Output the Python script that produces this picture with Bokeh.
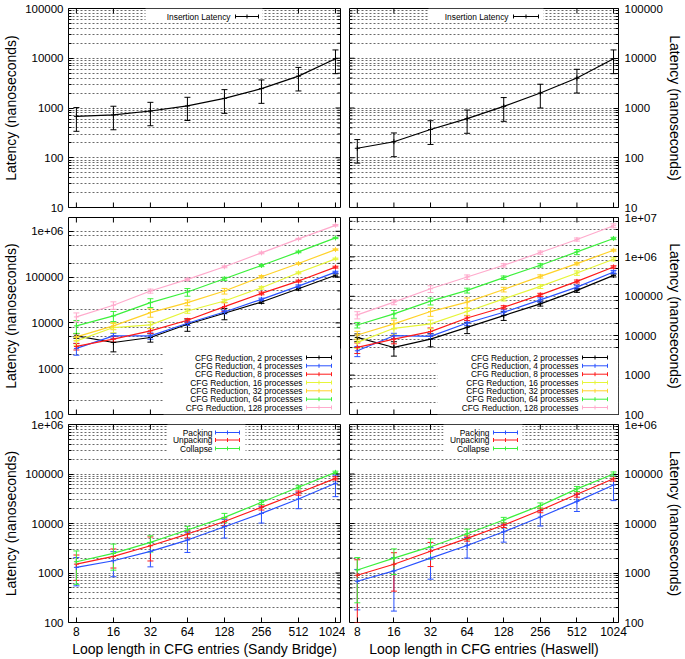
from bokeh.plotting import figure
from bokeh.models import (Range1d, FixedTicker, LinearScale, ColumnDataSource, Whisker,
                          TeeHead, Label, BoxAnnotation, Arrow)
from bokeh.layouts import column, row
from bokeh.embed import file_html
from bokeh.resources import INLINE

# ---------------- data ----------------
LOOP_LEN = [8, 16, 32, 64, 128, 256, 512, 1024]
X_TICK_LABELS = ["8", "16", "32", "64", "128", "256", "512", "1024"]

# Insertion latency (ns)
INS_SB = [680, 725, 870, 1100, 1560, 2450, 4370, 9800]
INS_SB_ERR = [340, 360, 430, 540, 780, 1210, 2170, 4900]
INS_HW = [155, 210, 370, 610, 1080, 2000, 4000, 9800]
INS_HW_ERR = [77, 105, 185, 300, 540, 1000, 2000, 4900]

# CFG reduction, Sandy Bridge
CFG_PROCS = ["2", "4", "8", "16", "32", "64", "128"]
CFG_SB_2 = [5210, 3730, 4800, 9350, 16200, 28600, 55700, 110000]
CFG_SB_2_ERR = [600, 1400, 1000, 2800, 4500, 2000, 4000, 8000]
CFG_SB_4 = [2770, 5210, 5200, 9800, 17300, 32700, 63500, 128000]
CFG_SB_4_ERR = [800, 700, 800, 1000, 1500, 2000, 4000, 6000]
CFG_SB_8 = [3060, 4420, 6700, 11400, 22700, 44100, 81900, 165000]
CFG_SB_8_ERR = [500, 600, 800, 1000, 5000, 3000, 4000, 8000]
CFG_SB_16 = [4060, 7910, 9040, 18200, 30100, 58600, 124000, 250000]
CFG_SB_16_ERR = [800, 1800, 1500, 2000, 2500, 4000, 6000, 10000]
CFG_SB_32 = [4960, 8600, 16800, 27700, 49600, 102000, 198000, 399000]
CFG_SB_32_ERR = [900, 1500, 3500, 4000, 7000, 6000, 8000, 15000]
CFG_SB_64 = [8600, 14200, 27700, 47200, 92000, 179000, 355000, 716000]
CFG_SB_64_ERR = [2700, 3500, 6000, 9000, 7000, 10000, 15000, 25000]
CFG_SB_128 = [13500, 24300, 49600, 89000, 168000, 338000, 681000, 1350000]
CFG_SB_128_ERR = [3000, 4500, 5000, 5000, 8000, 15000, 20000, 50000]

# CFG reduction, Haswell
CFG_HW_2 = [9060, 5030, 8220, 16300, 32400, 64400, 141000, 340000]
CFG_HW_2_ERR = [2000, 2000, 3000, 5000, 8000, 8000, 15000, 30000]
CFG_HW_4 = [4140, 10000, 9620, 21000, 39400, 81400, 171000, 414000]
CFG_HW_4_ERR = [1200, 1500, 1500, 3000, 6000, 10000, 20000, 40000]
CFG_HW_8 = [5030, 8220, 12700, 28200, 52800, 109000, 239000, 556000]
CFG_HW_8_ERR = [1500, 2000, 3000, 4000, 5000, 10000, 20000, 40000]
CFG_HW_16 = [6760, 15400, 19900, 41000, 86300, 178000, 390000, 871000]
CFG_HW_16_ERR = [2000, 5000, 5000, 8000, 10000, 20000, 50000, 80000]
CFG_HW_32 = [10400, 19900, 41000, 71000, 149000, 321000, 676000, 1480000]
CFG_HW_32_ERR = [2500, 5000, 10000, 20000, 20000, 30000, 50000, 80000]
CFG_HW_64 = [18700, 35700, 75300, 141000, 297000, 613000, 1340000, 2940000]
CFG_HW_64_ERR = [3000, 8000, 15000, 20000, 30000, 60000, 200000, 200000]
CFG_HW_128 = [33700, 71000, 155000, 308000, 613000, 1290000, 2770000, 6180000]
CFG_HW_128_ERR = [7000, 10000, 30000, 40000, 60000, 120000, 250000, 700000]

# Packing / Unpacking / Collapse
PACK_SB = [1300, 1770, 2730, 4630, 8610, 16000, 31300, 64900]
PACK_SB_ERR = [750, 930, 1400, 2030, 3530, 5800, 11400, 30000]
UNPACK_SB = [1510, 2160, 3550, 6120, 11000, 21200, 41300, 81800]
UNPACK_SB_ERR = [800, 900, 1800, 1000, 2000, 2500, 4000, 6000]
COLLAPSE_SB = [1690, 2490, 4150, 7380, 13300, 26800, 53900, 108000]
COLLAPSE_SB_ERR = [1100, 1350, 1500, 1400, 2700, 2500, 4000, 6000]

PACK_HW = [680, 1100, 2000, 3600, 6800, 13500, 28000, 60000]
PACK_HW_ERR = [500, 930, 1250, 1600, 2600, 4600, 10500, 31000]
UNPACK_HW = [900, 1500, 2750, 5000, 9300, 18500, 39000, 80000]
UNPACK_HW_ERR = [950, 1070, 1400, 600, 1000, 2000, 5000, 8000]
COLLAPSE_HW = [1150, 2000, 3400, 6200, 11800, 23000, 50000, 100000]
COLLAPSE_HW_ERR = [900, 1070, 1500, 1500, 1500, 3000, 6000, 10000]

# axis ticks
TOP_Y_TICKS = [10, 100, 1000, 10000, 100000]
TOP_Y_LABELS = ["10", "100", "1000", "10000", "100000"]
MID_L_Y_TICKS = [100, 1000, 10000, 100000, 1000000]
MID_L_Y_LABELS = ["100", "1000", "10000", "100000", "1e+06"]
MID_R_Y_TICKS = [100, 1000, 10000, 100000, 1000000, 10000000]
MID_R_Y_LABELS = ["100", "1000", "10000", "100000", "1e+06", "1e+07"]
BOT_Y_TICKS = [100, 1000, 10000, 100000, 1000000]
BOT_Y_LABELS = ["100", "1000", "10000", "100000", "1e+06"]

Y_TITLE = "Latency (nanoseconds)"
X_TITLE_SB = "Loop length in CFG entries (Sandy Bridge)"
X_TITLE_HW = "Loop length in CFG entries (Haswell)"
INS_LABEL = "Insertion Latency"
PUC_LABELS = ["Packing", "Unpacking", "Collapse"]

# ---------------- style ----------------
FONT = "Liberation Sans"
X_RANGE = (6.9, 1125)
GRID_COLOR = "#6a6a6a"
C_BLACK = "#000000"
C_BLUE = "#2a52ff"
C_RED = "#ff1a1a"
C_YEL = "#e6f53a"
C_GOLD = "#ffd22a"
C_GREEN = "#3cf03c"
C_PINK = "#ffaacc"
CFG_COLORS = [C_BLACK, C_BLUE, C_RED, C_YEL, C_GOLD, C_GREEN, C_PINK]
PUC_COLORS = [C_BLUE, C_RED, C_GREEN]
MAJ_TICK = 5
MIN_TICK = 3
KEY_FONT_SIZE = "8.4px"


def minor_list(lo, hi, mults):
    out = []
    dec = lo
    while dec < hi:
        for m in mults:
            v = m * dec
            if lo < v < hi:
                out.append(v)
        dec *= 10
    return out


def style_axis(ax, ticker, labels_map, standoff, title_standoff):
    ax.ticker = ticker
    ax.major_label_overrides = labels_map
    ax.axis_line_color = None
    ax.major_tick_in = MAJ_TICK
    ax.major_tick_out = 0
    ax.minor_tick_in = MIN_TICK
    ax.minor_tick_out = 0
    ax.major_tick_line_color = "black"
    ax.minor_tick_line_color = "black"
    ax.major_label_text_font = FONT
    ax.major_label_text_color = "black"
    ax.major_label_text_font_size = "11.5px"
    ax.major_label_standoff = standoff
    ax.axis_label_text_font = FONT
    ax.axis_label_text_font_size = "14px"
    ax.axis_label_text_font_style = "normal"
    ax.axis_label_text_color = "black"
    ax.axis_label_standoff = title_standoff


def make_panel(side, width, height, borders, y_lo, y_hi, y_ticks, y_labels, minor_mults,
               x_title=None):
    bl, br, bt, bb = borders
    fw = width - bl - br
    fh = height - bt - bb
    p = figure(width=width, height=height, x_axis_type="log", y_axis_type="log",
               x_range=Range1d(*X_RANGE), y_range=Range1d(y_lo, y_hi),
               y_axis_location=side,
               x_axis_location="below" if x_title is not None else None,
               output_backend="svg", toolbar_location=None,
               min_border_left=bl, min_border_right=br, min_border_top=bt,
               min_border_bottom=bb, background_fill_color="white",
               border_fill_color="white", outline_line_color="black",
               outline_line_width=1)
    p.extra_x_ranges = {"fx": Range1d(0, fw)}
    p.extra_x_scales = {"fx": LinearScale()}
    p.extra_y_ranges = {"fy": Range1d(0, fh)}
    p.extra_y_scales = {"fy": LinearScale()}

    y_minor = minor_list(y_lo, y_hi, minor_mults)
    xt = FixedTicker(ticks=LOOP_LEN, minor_ticks=[])
    yt = FixedTicker(ticks=y_ticks, minor_ticks=y_minor)

    if x_title is not None:
        xa = p.xaxis[0]
        style_axis(xa, xt, dict(zip(LOOP_LEN, X_TICK_LABELS)), 4, 2)
        xa.major_label_text_font_size = "12px"
        xa.axis_label = x_title

    ya = p.yaxis[0]
    if side == "left":
        style_axis(ya, yt, dict(zip(y_ticks, y_labels)), 5, 3)
    else:
        style_axis(ya, yt, dict(zip(y_ticks, y_labels)), 6, 1)
    ya.axis_label = Y_TITLE

    p.xgrid.visible = False
    g = p.ygrid[0]
    g.ticker = yt
    g.grid_line_color = GRID_COLOR
    g.grid_line_dash = "2 2"
    g.grid_line_width = 1
    g.minor_grid_line_color = GRID_COLOR
    g.minor_grid_line_dash = "2 2"
    g.minor_grid_line_width = 1

    # mirrored tick marks (inside the frame)
    n = len(LOOP_LEN)
    p.segment(x0=LOOP_LEN, x1=LOOP_LEN, y0=[fh - MAJ_TICK] * n, y1=[fh] * n,
              y_range_name="fy", line_color="black", line_width=1)
    if x_title is None:
        p.segment(x0=LOOP_LEN, x1=LOOP_LEN, y0=[0] * n, y1=[MAJ_TICK] * n,
                  y_range_name="fy", line_color="black", line_width=1)
    if side == "left":
        xm0, xm1, xn0, xn1 = fw - MAJ_TICK, fw, fw - MIN_TICK, fw
    else:
        xm0, xm1, xn0, xn1 = 0, MAJ_TICK, 0, MIN_TICK
    m = len(y_ticks)
    k = len(y_minor)
    p.segment(x0=[xm0] * m, x1=[xm1] * m, y0=y_ticks, y1=y_ticks, x_range_name="fx",
              line_color="black", line_width=1)
    p.segment(x0=[xn0] * k, x1=[xn1] * k, y0=y_minor, y1=y_minor, x_range_name="fx",
              line_color="black", line_width=1)
    return p


def add_series(p, ys, errs, color, y_floor):
    src = ColumnDataSource(dict(
        x=LOOP_LEN, y=ys,
        upper=[v + e for v, e in zip(ys, errs)],
        lower=[max(v - e, y_floor) for v, e in zip(ys, errs)]))
    p.line("x", "y", source=src, line_color=color, line_width=1.2)
    p.add_layout(Whisker(source=src, base="x", upper="upper", lower="lower",
                         line_color=color, line_width=1,
                         upper_head=TeeHead(size=6, line_color=color, line_width=1),
                         lower_head=TeeHead(size=6, line_color=color, line_width=1)))
    p.scatter("x", "y", source=src, marker="cross", size=5, line_color=color)


def seg(p, x0, y0, x1, y1, color):
    p.add_layout(Arrow(end=None, x_start=x0, y_start=y0, x_end=x1, y_end=y1,
                       start_units="screen", end_units="screen",
                       line_color=color, line_width=1))


def add_key(p, labels, colors, text_right, s0, s1, row_ys, box):
    l, r, b, t = box
    p.add_layout(BoxAnnotation(left=l, right=r, bottom=b, top=t,
                               left_units="screen", right_units="screen",
                               bottom_units="screen", top_units="screen",
                               fill_color="white", fill_alpha=1, line_color=None))
    for lab, col, y in zip(labels, colors, row_ys):
        p.add_layout(Label(x=text_right, y=y, x_units="screen", y_units="screen",
                           text=lab, text_align="right", text_baseline="middle",
                           text_font=FONT, text_font_size=KEY_FONT_SIZE,
                           text_color="black"))
        seg(p, s0, y, s1, y, col)
        for xc in (s0, (s0 + s1) / 2, s1):
            seg(p, xc, y - 2, xc, y + 2, col)


LW, RW = 345, 340
L_BORD = (68, 5)
R_BORD = (4, 67)

# ---------------- row 1 ----------------
H1 = 212
p11 = make_panel("left", LW, H1, L_BORD + (8, 5), 10, 100000, TOP_Y_TICKS, TOP_Y_LABELS,
                 [2, 3, 4, 5, 6, 7, 8, 9])
add_series(p11, INS_SB, INS_SB_ERR, C_BLACK, 10)
add_key(p11, [INS_LABEL], [C_BLACK], 162, 167, 190, [191], (77, 194, 185, 199))

p12 = make_panel("right", RW, H1, R_BORD + (8, 5), 10, 100000, TOP_Y_TICKS, TOP_Y_LABELS,
                 [2, 3, 4, 5, 6, 7, 8, 9])
add_series(p12, INS_HW, INS_HW_ERR, C_BLACK, 10)
add_key(p12, [INS_LABEL], [C_BLACK], 159, 164, 189, [191], (79, 194, 185, 199))

# ---------------- row 2 ----------------
H2 = 207
cfg_labels = ["CFG Reduction, %s processes" % n for n in CFG_PROCS]
key_rows = [57.0, 48.7, 40.3, 32.0, 23.7, 15.3, 7.0]

p21 = make_panel("left", LW, H2, L_BORD + (5, 5), 100, 2000000, MID_L_Y_TICKS, MID_L_Y_LABELS,
                 [2, 5, 8])
for ys, es, c in zip([CFG_SB_2, CFG_SB_4, CFG_SB_8, CFG_SB_16, CFG_SB_32, CFG_SB_64, CFG_SB_128],
                     [CFG_SB_2_ERR, CFG_SB_4_ERR, CFG_SB_8_ERR, CFG_SB_16_ERR, CFG_SB_32_ERR,
                      CFG_SB_64_ERR, CFG_SB_128_ERR], CFG_COLORS):
    add_series(p21, ys, es, c, 100)
add_key(p21, cfg_labels, CFG_COLORS, 234, 238, 263, key_rows, (95, 272, 0, 66))

p22 = make_panel("right", RW, H2, R_BORD + (5, 5), 100, 10000000, MID_R_Y_TICKS, MID_R_Y_LABELS,
                 [2, 5, 8])
for ys, es, c in zip([CFG_HW_2, CFG_HW_4, CFG_HW_8, CFG_HW_16, CFG_HW_32, CFG_HW_64, CFG_HW_128],
                     [CFG_HW_2_ERR, CFG_HW_4_ERR, CFG_HW_8_ERR, CFG_HW_16_ERR, CFG_HW_32_ERR,
                      CFG_HW_64_ERR, CFG_HW_128_ERR], CFG_COLORS):
    add_series(p22, ys, es, c, 100)
add_key(p22, cfg_labels, CFG_COLORS, 229, 233, 258, key_rows, (88, 269, 0, 66))

# ---------------- row 3 ----------------
H3 = 240
puc_rows = [190, 182.5, 174]
p31 = make_panel("left", LW, H3, L_BORD + (5, 37), 100, 1000000, BOT_Y_TICKS, BOT_Y_LABELS,
                 [2, 3, 4, 5, 6, 7, 8, 9], X_TITLE_SB)
for ys, es, c in zip([PACK_SB, UNPACK_SB, COLLAPSE_SB],
                     [PACK_SB_ERR, UNPACK_SB_ERR, COLLAPSE_SB_ERR], PUC_COLORS):
    add_series(p31, ys, es, c, 100)
add_key(p31, PUC_LABELS, PUC_COLORS, 144, 147, 171, puc_rows, (99, 177, 167, 198))

p32 = make_panel("right", RW, H3, R_BORD + (5, 37), 100, 1000000, BOT_Y_TICKS, BOT_Y_LABELS,
                 [2, 3, 4, 5, 6, 7, 8, 9], X_TITLE_HW)
for ys, es, c in zip([PACK_HW, UNPACK_HW, COLLAPSE_HW],
                     [PACK_HW_ERR, UNPACK_HW_ERR, COLLAPSE_HW_ERR], PUC_COLORS):
    add_series(p32, ys, es, c, 100)
add_key(p32, PUC_LABELS, PUC_COLORS, 140, 144, 168, puc_rows, (94, 173, 167, 198))

layout = column(row(p11, p12), row(p21, p22), row(p31, p32))
open("out.html", "w").write(file_html(layout, INLINE))
